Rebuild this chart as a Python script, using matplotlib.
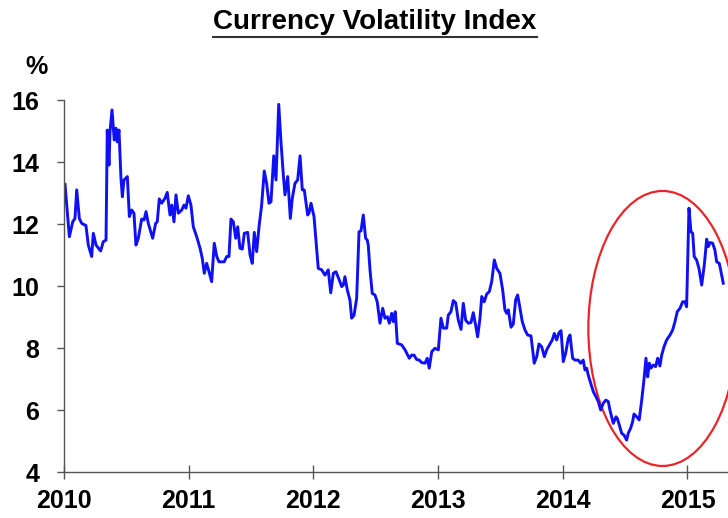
import matplotlib
matplotlib.use("Agg")
import matplotlib.pyplot as plt
from matplotlib.patches import Ellipse
from matplotlib.lines import Line2D
from matplotlib import font_manager

fams = {f.name for f in font_manager.fontManager.ttflist}
FONT = "Liberation Sans Narrow" if "Liberation Sans Narrow" in fams else "Liberation Sans"
plt.rcParams['font.family'] = [FONT, 'DejaVu Sans']

title = "Currency Volatility Index"
unit_label = "%"
year_ticks = [2010, 2011, 2012, 2013, 2014, 2015]
value_ticks = [4, 6, 8, 10, 12, 14, 16]

dates = [
    2010.008, 2010.043, 2010.070, 2010.088, 2010.102, 2010.123, 2010.142, 2010.176, 2010.195, 2010.222,
    2010.235, 2010.257, 2010.294, 2010.315, 2010.337, 2010.347, 2010.361, 2010.369, 2010.385, 2010.403,
    2010.417, 2010.427, 2010.441, 2010.457, 2010.468, 2010.481, 2010.508, 2010.524, 2010.543, 2010.561,
    2010.577, 2010.596, 2010.623, 2010.642, 2010.658, 2010.676, 2010.711, 2010.735, 2010.748, 2010.764,
    2010.783, 2010.810, 2010.828, 2010.850, 2010.864, 2010.882, 2010.898, 2010.917, 2010.944, 2010.962,
    2010.978, 2010.997, 2011.018, 2011.037, 2011.064, 2011.091, 2011.109, 2011.125, 2011.144, 2011.163,
    2011.184, 2011.205, 2011.225, 2011.243, 2011.285, 2011.305, 2011.323, 2011.339, 2011.358, 2011.377,
    2011.393, 2011.411, 2011.430, 2011.446, 2011.473, 2011.492, 2011.510, 2011.526, 2011.545, 2011.564,
    2011.585, 2011.606, 2011.625, 2011.644, 2011.660, 2011.682, 2011.700, 2011.722, 2011.740, 2011.759,
    2011.772, 2011.794, 2011.815, 2011.831, 2011.852, 2011.874, 2011.893, 2011.911, 2011.927, 2011.954,
    2011.965, 2011.981, 2012.005, 2012.039, 2012.067, 2012.093, 2012.119, 2012.139, 2012.160, 2012.181,
    2012.208, 2012.227, 2012.240, 2012.253, 2012.272, 2012.293, 2012.307, 2012.326, 2012.347, 2012.366,
    2012.382, 2012.400, 2012.419, 2012.432, 2012.440, 2012.454, 2012.472, 2012.494, 2012.512, 2012.534,
    2012.556, 2012.574, 2012.593, 2012.609, 2012.628, 2012.641, 2012.657, 2012.673, 2012.708, 2012.735,
    2012.769, 2012.788, 2012.807, 2012.828, 2012.849, 2012.868, 2012.895, 2012.913, 2012.929, 2012.949,
    2012.975, 2013.002, 2013.023, 2013.042, 2013.069, 2013.082, 2013.103, 2013.122, 2013.141, 2013.162,
    2013.184, 2013.202, 2013.221, 2013.242, 2013.264, 2013.282, 2013.301, 2013.317, 2013.336, 2013.350,
    2013.370, 2013.390, 2013.411, 2013.430, 2013.451, 2013.470, 2013.496, 2013.518, 2013.536, 2013.550,
    2013.563, 2013.585, 2013.603, 2013.622, 2013.638, 2013.657, 2013.675, 2013.697, 2013.718, 2013.745,
    2013.771, 2013.791, 2013.809, 2013.831, 2013.852, 2013.871, 2013.897, 2013.916, 2013.932, 2013.951,
    2013.969, 2013.986, 2014.004, 2014.023, 2014.044, 2014.058, 2014.079, 2014.098, 2014.124, 2014.143,
    2014.164, 2014.178, 2014.192, 2014.204, 2014.224, 2014.245, 2014.266, 2014.285, 2014.304, 2014.325,
    2014.346, 2014.365, 2014.378, 2014.392, 2014.405, 2014.427, 2014.437, 2014.453, 2014.472, 2014.491,
    2014.512, 2014.525, 2014.544, 2014.560, 2014.571, 2014.593, 2014.613, 2014.633, 2014.651, 2014.667,
    2014.681, 2014.694, 2014.707, 2014.726, 2014.745, 2014.761, 2014.779, 2014.793, 2014.812, 2014.833,
    2014.860, 2014.881, 2014.900, 2014.918, 2014.940, 2014.961, 2014.980, 2014.993, 2015.012, 2015.028,
    2015.042, 2015.054, 2015.073, 2015.092, 2015.114, 2015.135, 2015.154, 2015.167, 2015.180, 2015.202,
    2015.220, 2015.234, 2015.255, 2015.266, 2015.287,
]

volatility = [
    13.28, 11.59, 12.07, 12.18, 13.10, 12.18, 12.02, 11.95, 11.32, 10.95,
    11.70, 11.32, 11.13, 11.43, 11.48, 15.03, 13.90, 14.98, 15.68, 14.71,
    15.09, 14.65, 15.03, 13.47, 12.88, 13.42, 13.53, 12.24, 12.45, 12.35,
    11.32, 11.54, 12.16, 12.13, 12.40, 12.02, 11.54, 12.02, 12.07, 12.81,
    12.67, 12.83, 13.02, 12.29, 12.61, 12.07, 12.94, 12.35, 12.45, 12.61,
    12.51, 12.91, 12.61, 11.91, 11.59, 11.22, 10.89, 10.41, 10.73, 10.46,
    10.14, 11.38, 10.95, 10.78, 10.78, 10.95, 10.95, 12.16, 12.07, 11.54,
    11.91, 11.22, 11.19, 11.70, 11.73, 11.00, 10.73, 11.73, 11.11, 11.91,
    12.61, 13.71, 13.31, 12.67, 12.72, 14.20, 13.42, 15.86, 14.65, 13.58,
    12.94, 13.53, 12.18, 12.83, 13.31, 13.42, 14.20, 13.10, 13.10, 12.29,
    12.35, 12.67, 12.24, 10.57, 10.52, 10.35, 10.52, 9.78, 10.41, 10.46,
    10.19, 9.98, 10.03, 10.30, 9.87, 9.55, 8.96, 9.06, 9.60, 11.75,
    11.78, 12.29, 11.54, 11.48, 11.32, 10.52, 9.76, 9.71, 9.49, 8.80,
    9.28, 8.96, 9.01, 8.80, 9.12, 8.85, 9.17, 8.15, 8.10, 7.94,
    7.67, 7.77, 7.77, 7.63, 7.61, 7.53, 7.51, 7.67, 7.35, 7.88,
    7.99, 7.94, 8.96, 8.64, 8.64, 9.06, 9.17, 9.53, 9.46, 8.90,
    8.60, 9.44, 8.90, 8.80, 8.82, 9.14, 8.74, 8.36, 8.96, 9.66,
    9.49, 9.74, 9.82, 10.14, 10.84, 10.57, 10.41, 9.87, 9.23, 9.12,
    9.23, 8.67, 8.77, 9.55, 9.71, 9.28, 8.85, 8.58, 8.42, 8.39,
    7.51, 7.72, 8.13, 8.04, 7.72, 7.94, 8.13, 8.26, 8.47, 8.26,
    8.49, 8.56, 7.56, 7.83, 8.31, 8.42, 7.67, 7.61, 7.61, 7.51,
    7.61, 7.29, 7.35, 7.13, 6.86, 6.59, 6.43, 6.27, 6.00, 6.22,
    6.32, 6.27, 6.00, 5.78, 5.57, 5.78, 5.73, 5.52, 5.25, 5.19,
    5.03, 5.25, 5.41, 5.62, 5.87, 5.78, 5.68, 6.32, 6.97, 7.67,
    7.07, 7.51, 7.35, 7.45, 7.40, 7.67, 7.42, 7.77, 8.04, 8.26,
    8.42, 8.58, 8.85, 9.17, 9.28, 9.49, 9.49, 9.33, 12.51, 11.75,
    11.70, 10.95, 10.84, 10.57, 10.03, 10.68, 11.51, 11.27, 11.40, 11.38,
    11.16, 10.78, 10.73, 10.52, 10.09,
]

# highlight ellipse (centre year, centre value, width in years, height in %)
ellipse_center = (2014.80, 8.63)
ellipse_size = (1.19, 8.87)

fig = plt.figure(figsize=(7.28, 5.18), dpi=100)
ax = fig.add_axes([64/728, 1 - 472/518, 1 - 64/728, (472 - 100)/518])

ax.plot(dates, volatility, color='#1010F5', lw=2.1, solid_joinstyle='round')
ax.add_patch(Ellipse(ellipse_center, ellipse_size[0], ellipse_size[1],
                     fill=False, edgecolor='#E8262A', lw=1.6))

ax.set_xlim(2010, 2015.325)
ax.set_ylim(4, 16)
ax.set_xticks(year_ticks)
ax.set_yticks(value_ticks)
ax.set_xticklabels([str(y) for y in year_ticks])
ax.set_yticklabels([str(v) for v in value_ticks])

for s in ['top', 'right']:
    ax.spines[s].set_visible(False)
for s in ['left', 'bottom']:
    ax.spines[s].set_color('#555555')
    ax.spines[s].set_linewidth(1.0)

ax.tick_params(axis='y', direction='out', length=5, width=1, color='#555555',
               labelsize=18, pad=13)
ax.tick_params(axis='x', direction='inout', length=10, width=1, color='#555555',
               labelsize=18, pad=7)
for lab in ax.get_xticklabels() + ax.get_yticklabels():
    lab.set_fontweight('bold')

t = fig.text(375/728, 1 - 22/518, title, ha='center', va='center',
             fontsize=20, fontweight='bold')
fig.text(37/728, 1 - 67/518, unit_label, ha='center', va='center',
         fontsize=18, fontweight='bold')

fig.canvas.draw()
bb = t.get_window_extent(renderer=fig.canvas.get_renderer())
fig_w, fig_h = fig.get_size_inches() * fig.dpi
uy = (bb.y0 - 2) / fig_h
fig.add_artist(Line2D([bb.x0 / fig_w, bb.x1 / fig_w], [uy, uy],
                      transform=fig.transFigure, color='#333333', lw=1.5))

fig.savefig('out.png', dpi=100)
